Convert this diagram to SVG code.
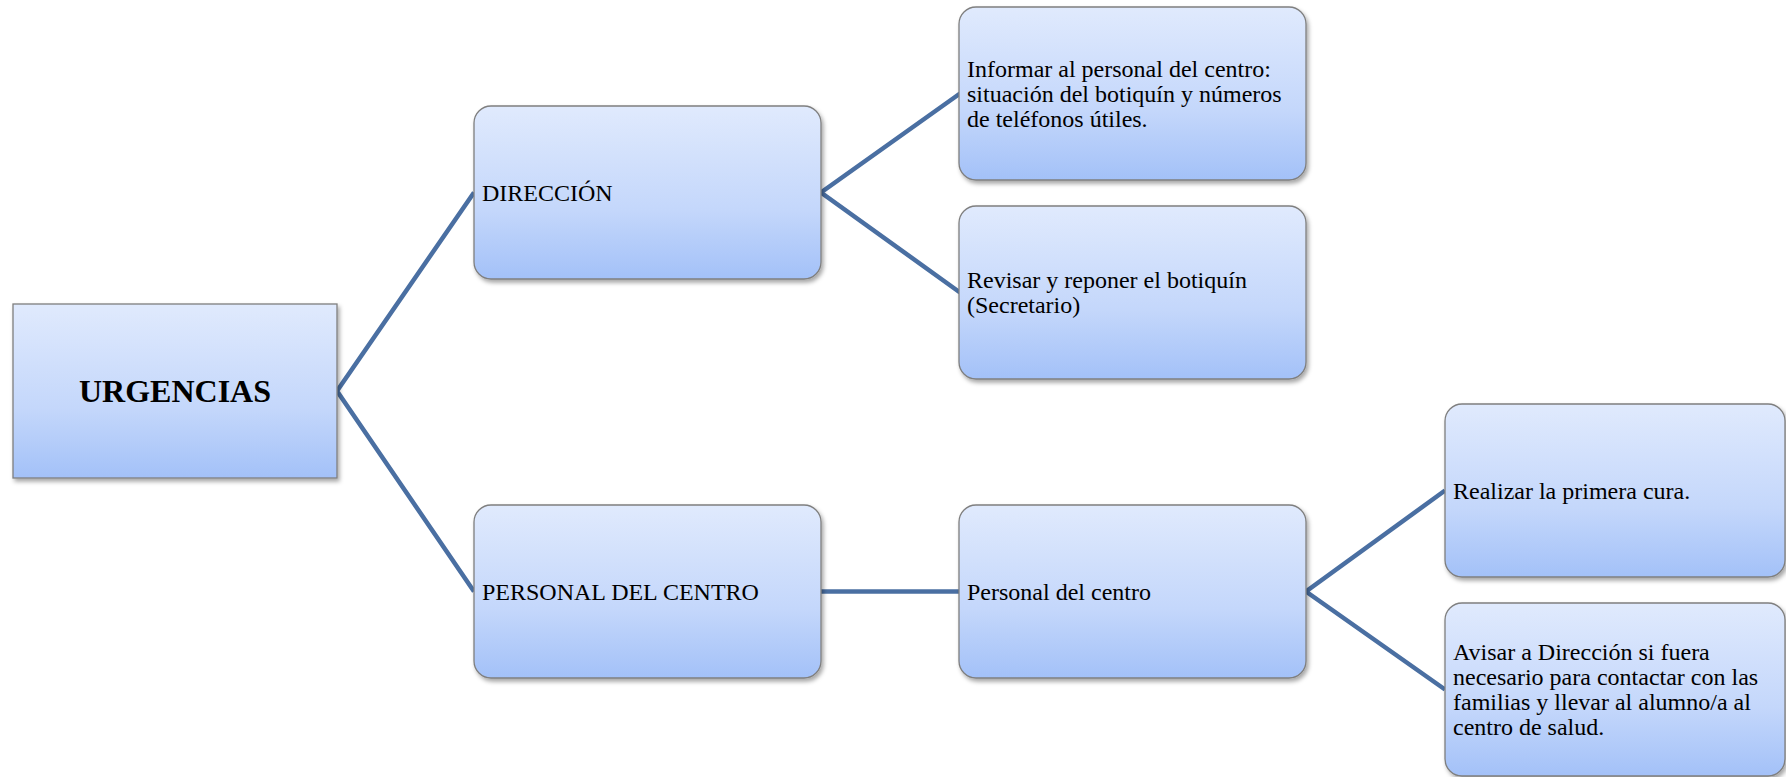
<svg xmlns="http://www.w3.org/2000/svg" width="1786" height="777" viewBox="0 0 1786 777">
<style>
.box{fill:url(#g);stroke:#7f7f7f;stroke-width:1.3;filter:url(#sh)}
.t{font-family:"Liberation Serif","Times New Roman",serif;font-size:24px;fill:#000}
.tb{font-family:"Liberation Serif","Times New Roman",serif;font-size:32px;font-weight:bold;fill:#000}
.c{fill:none;stroke:#4a6fa2;stroke-width:4.5;stroke-linejoin:miter}
</style>
<defs>
<linearGradient id="g" x1="0" y1="0" x2="0" y2="1">
<stop offset="0" stop-color="#e0eafd"/>
<stop offset="0.6" stop-color="#c4d7fb"/>
<stop offset="1" stop-color="#a3c1f8"/>
</linearGradient>
<filter id="sh" x="-10%" y="-10%" width="125%" height="130%">
<feDropShadow dx="2" dy="3" stdDeviation="2" flood-color="#000" flood-opacity="0.35"/>
</filter>
</defs>
<rect width="1786" height="777" fill="#fff"/>
<g id="connectors">
<polyline class="c" points="474,192.5 337,391 474,591.5"/>
<polyline class="c" points="960,93.5 821,192.5 960,292.5"/>
<line class="c" x1="821" y1="591.5" x2="960" y2="591.5"/>
<polyline class="c" points="1445,490.5 1306,591.5 1445,689.5"/>
</g>
<g id="urgencias">
<rect class="box" x="13" y="304" width="324" height="174"/>
<text class="tb" x="175" y="402" text-anchor="middle">URGENCIAS</text>
</g>
<g id="direccion">
<rect class="box" x="474" y="106" width="347" height="173" rx="17"/>
<text class="t" x="482" y="200.5">DIRECCIÓN</text>
</g>
<g id="informar">
<rect class="box" x="959" y="7" width="347" height="173" rx="17"/>
<text class="t" x="967" y="76.5">Informar al personal del centro:</text>
<text class="t" x="967" y="101.5">situación del botiquín y números</text>
<text class="t" x="967" y="126.5">de teléfonos útiles.</text>
</g>
<g id="revisar">
<rect class="box" x="959" y="206" width="347" height="173" rx="17"/>
<text class="t" x="967" y="288">Revisar y reponer el botiquín</text>
<text class="t" x="967" y="313">(Secretario)</text>
</g>
<g id="personal">
<rect class="box" x="474" y="505" width="347" height="173" rx="17"/>
<text class="t" x="482" y="599.5">PERSONAL DEL CENTRO</text>
</g>
<g id="personal-centro">
<rect class="box" x="959" y="505" width="347" height="173" rx="17"/>
<text class="t" x="967" y="599.5">Personal del centro</text>
</g>
<g id="realizar">
<rect class="box" x="1445" y="404" width="340" height="173" rx="17"/>
<text class="t" x="1453" y="498.5">Realizar la primera cura.</text>
</g>
<g id="avisar">
<rect class="box" x="1445" y="603" width="340" height="173" rx="17"/>
<text class="t" x="1453" y="660">Avisar a Dirección si fuera</text>
<text class="t" x="1453" y="685">necesario para contactar con las</text>
<text class="t" x="1453" y="710">familias y llevar al alumno/a al</text>
<text class="t" x="1453" y="735">centro de salud.</text>
</g>
</svg>
